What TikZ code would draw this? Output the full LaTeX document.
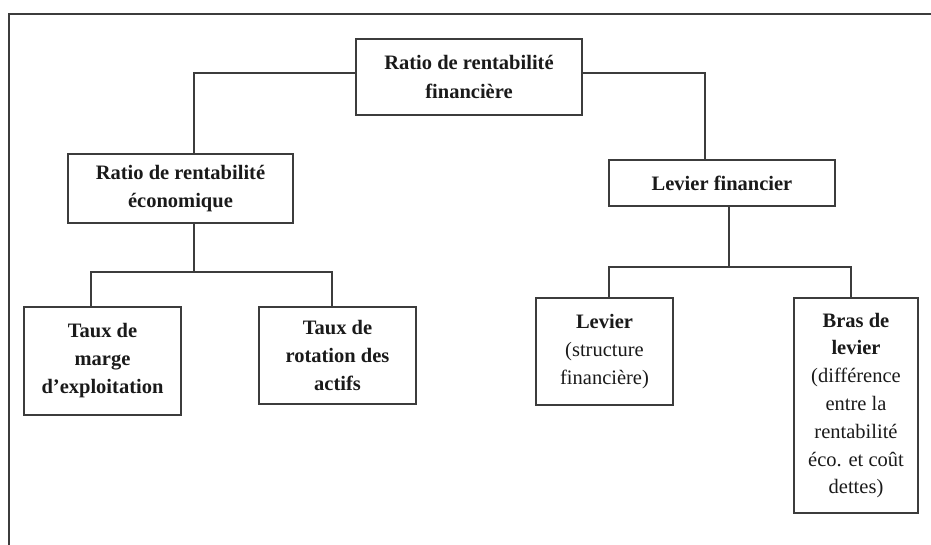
\documentclass[tikz,border=0pt]{standalone}
\usepackage{fontspec}
\setmainfont{Liberation Serif}
\usetikzlibrary{positioning}
\definecolor{LineGrey}{HTML}{3C3C3C}
\definecolor{InkDark}{HTML}{1A1A1A}

\begin{document}
\begin{tikzpicture}[x=0.5pt, y=-0.5pt,
  box/.style={rectangle, draw=LineGrey, line width=0.75pt, fill=white,
     inner sep=0pt, align=center, text=InkDark,
     font=\fontsize{10.25}{13.9}\selectfont},
  link/.style={draw=LineGrey, line width=0.7pt}]
  \useasboundingbox (0,0) rectangle (931,545);
  % outer frame (only top and left edges show)
  \draw[link] (931,14) -- (9,14) -- (9,545);
  % level 1 and 2
  \node[box, minimum width=113pt, minimum height=38pt, font=\fontsize{10.25}{14.5}\selectfont\bfseries]
     (top) at (469,77) {Ratio de rentabilité\\financière};
  \node[box, minimum width=112.5pt, minimum height=34.5pt, font=\fontsize{10.25}{14}\selectfont\bfseries]
     (eco) at (180.5,188.5) {Ratio de rentabilité\\économique};
  \node[box, minimum width=113pt, minimum height=23pt, font=\fontsize{10.25}{14}\selectfont\bfseries]
     (lev) at (722,183) {Levier financier};
  % level 3
  \node[box, minimum width=78.5pt, minimum height=54pt, font=\fontsize{10.25}{14}\selectfont\bfseries]
     (marge) at (102.5,361) {Taux de\\marge\\d’exploitation};
  \node[box, minimum width=78.5pt, minimum height=48.5pt, font=\fontsize{10.25}{14}\selectfont\bfseries]
     (rot) at (337.5,355.5) {Taux de\\rotation des\\actifs};
  \node[box, minimum width=68.5pt, minimum height=53.5pt]
     (struct) at (604.5,351.5) {\textbf{Levier}\\(structure\\financière)};
  \node[box, minimum width=62pt, minimum height=107.5pt]
     (bras) at (856,405.5) {\textbf{Bras de}\\\textbf{levier}\\(différence\\entre la\\rentabilité\\éco. et coût\\dettes)};
  % connectors
  \coordinate (jl) at (194,73);
  \coordinate (jr) at (705,73);
  \draw[link] (top.west |- jl) -- (jl) -- (jl |- eco.north);
  \draw[link] (top.east |- jr) -- (jr) -- (jr |- lev.north);
  \coordinate (fe) at (194,272);
  \draw[link] (fe |- eco.south) -- (fe);
  \draw[link] ([xshift=-5.75pt]marge.north) |- (fe) -| ([xshift=-2.75pt]rot.north);
  \coordinate (fl) at (729,267);
  \draw[link] (fl |- lev.south) -- (fl);
  \draw[link] ([xshift=2.25pt]struct.north) |- (fl) -| ([xshift=-2.5pt]bras.north);
\end{tikzpicture}
\end{document}
